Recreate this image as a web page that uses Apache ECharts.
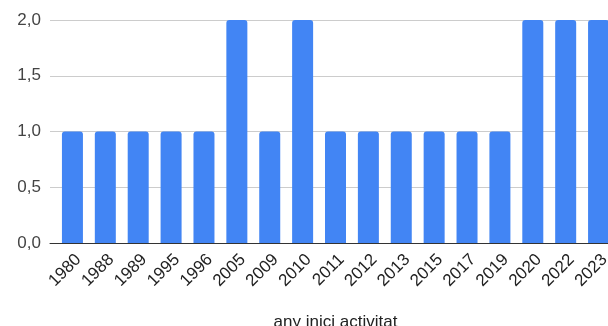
<!DOCTYPE html>
<html><head><meta charset="utf-8">
<script src="https://cdn.jsdelivr.net/npm/echarts@6/dist/echarts.min.js"></script>
<style>html,body{margin:0;padding:0;background:#fff}#c{width:608px;height:326px}</style>
</head><body><div id="c"></div>
<script>
const categories = ['1980','1988','1989','1995','1996','2005','2009','2010','2011','2012','2013','2015','2017','2019','2020','2022','2023'];
const values = [1,1,1,1,1,2,1,2,1,1,1,1,1,1,2,2,2];
const yTicks = [0, 0.5, 1, 1.5, 2];
const xTitle = 'any inici activitat';

const FONT = '"Liberation Sans", Arial, sans-serif';
const chart = echarts.init(document.getElementById('c'), null, {renderer:'canvas'});
chart.setOption({
  animation:false,
  grid:[
    {left:56, right:-7, top:20, bottom:83, containLabel:false, outerBoundsMode:'none'},
    {left:50, right:0, top:20, bottom:83, containLabel:false, outerBoundsMode:'none'}
  ],
  xAxis:[
    {type:'category', gridIndex:0, data:categories,
     axisLine:{show:false}, axisTick:{show:false},
     axisLabel:{rotate:45, interval:0, color:'#222', fontSize:17, fontFamily:FONT, margin:8, verticalAlign:'top'},
     name:xTitle, nameLocation:'middle', nameGap:71,
     nameTextStyle:{color:'#222', fontSize:17, fontFamily:FONT}},
    {type:'value', gridIndex:1, min:0, max:1, show:true,
     axisLine:{show:true, onZero:false, lineStyle:{color:'#333', width:1}},
     axisTick:{show:false}, axisLabel:{show:false}, splitLine:{show:false}}
  ],
  yAxis:[
    {type:'value', gridIndex:0, min:yTicks[0], max:yTicks[yTicks.length-1], interval:0.5,
     show:false, splitLine:{show:false}},
    {type:'value', gridIndex:1, min:yTicks[0], max:yTicks[yTicks.length-1], interval:0.5,
     axisLine:{show:false}, axisTick:{show:false},
     axisLabel:{color:'#444', fontSize:17, fontFamily:FONT, margin:9,
       formatter:v=>v.toFixed(1).replace('.',',')},
     splitLine:{lineStyle:{color:'#ccc', width:1}}}
  ],
  series:[{
    type:'bar', xAxisIndex:0, yAxisIndex:0, data:values, barWidth:21,
    itemStyle:{color:'#4285F4', borderRadius:[3,3,0,0]}
  }]
});
</script></body></html>
